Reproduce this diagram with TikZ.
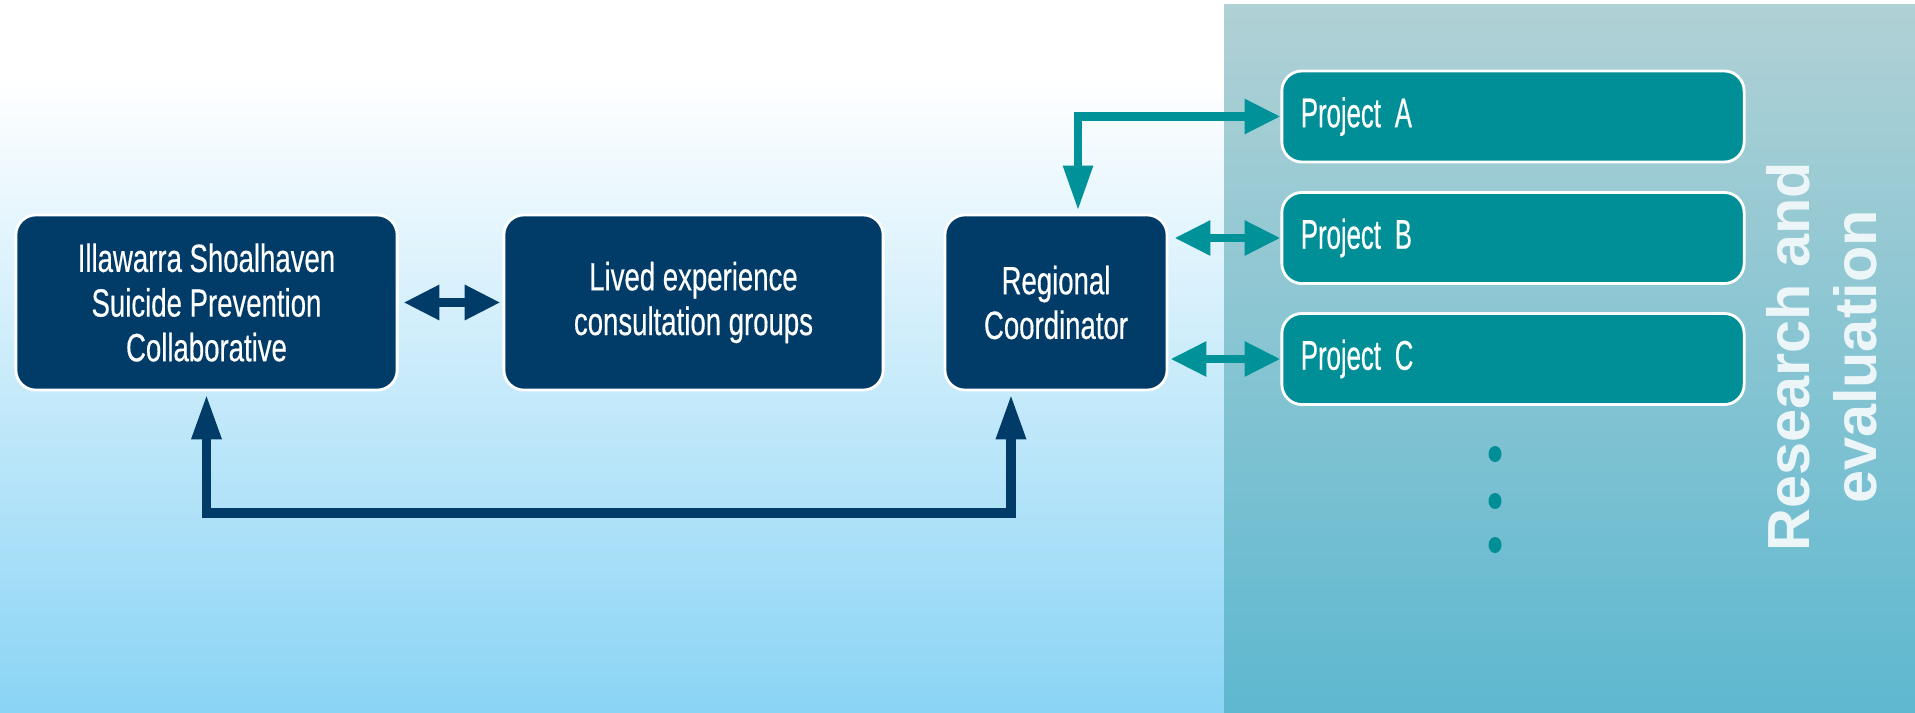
\documentclass[tikz,border=0pt]{standalone}
\usepackage{fontspec}
\usetikzlibrary{arrows.meta}
\setmainfont{Liberation Sans}
\newfontfamily\condfont[FakeStretch=0.7, FakeBold=0.4]{Liberation Sans}
\newfontfamily\projfont[FakeStretch=0.62, FakeBold=0.4]{Liberation Sans}
\newfontfamily\headfont{Liberation Sans}
% tighter word space for the project labels
\newcommand\projsetup{\projfont\fontsize{11.8}{13}\selectfont
  \fontdimen2\font=1pt\relax\spaceskip=1pt plus 0.3pt\relax}

\definecolor{navy}{RGB}{1,59,104}
\definecolor{tealbox}{RGB}{0,143,150}
\definecolor{tealarr}{RGB}{0,146,153}
\definecolor{skytop}{RGB}{255,255,255}
\definecolor{skymid}{RGB}{188,228,248}
\definecolor{skybot}{RGB}{138,212,245}
\definecolor{paneltop}{RGB}{176,209,213}
\definecolor{panelbot}{RGB}{94,184,208}
\definecolor{headtext}{RGB}{236,246,248}

\tikzset{
  darkbox/.style={draw=white, line width=0.8pt, fill=navy, rounded corners=0.2cm,
    minimum height=1.75cm, text=white, align=center,
    font=\condfont\fontsize{11.2}{12.7}\selectfont},
  projbox/.style={draw=white, line width=0.8pt, fill=tealbox, rounded corners=0.2cm,
    minimum width=4.62cm, minimum height=0.91cm, text width=4.24cm, inner xsep=0.19cm,
    align=left, text=white, font=\projsetup},
  navyarrow/.style={draw=navy, line width=2.6pt},
  tealarrow/.style={draw=tealarr, line width=2.4pt},
  HTip/.tip={Triangle[length=10.2pt, width=9.4pt]},
  VTip/.tip={Triangle[length=12.8pt, width=8pt]},
}

\begin{document}
\begin{tikzpicture}[x=0.01cm, y=-0.01cm]
  \useasboundingbox (0,0) rectangle (1915,712);

  % backgrounds
  \fill[white] (0,0) rectangle (1915,712);
  \shade[top color=skytop, middle color=skymid, bottom color=skybot] (0,80) rectangle (1224,712);
  \shade[top color=paneltop, bottom color=panelbot] (1224,4) rectangle (1915,712);

  % main boxes
  \node[darkbox, minimum width=3.81cm] (b1) at (206.5,302.5)
    {Illawarra Shoalhaven\\Suicide Prevention\\Collaborative};
  \node[darkbox, minimum width=3.79cm] (b2) at (693.5,302.5)
    {Lived experience\\consultation groups};
  \node[darkbox, minimum width=2.22cm] (b3) at (1056,302.5)
    {Regional\\Coordinator};

  % projects
  \node[projbox] (pA) at (1513,116.5) {Project A};
  \node[projbox] (pB) at (1513,238) {Project B};
  \node[projbox] (pC) at (1513,359) {Project C};

  % continuation dots
  \foreach \yy in {454,501,545}
    \fill[tealbox] (1495,\yy) ellipse [x radius=0.065cm, y radius=0.08cm];

  % side heading
  \node[rotate=90, align=center, text=headtext, inner sep=0pt,
        font=\headfont\bfseries\fontsize{16.9}{19}\selectfont] (re) at (1822,357)
    {Research and\\evaluation};

  % navy connectors
  \draw[navyarrow, HTip-HTip, shorten <=0.05cm, shorten >=0.02cm] (b1.east) -- (b2.west);
  \coordinate (busy) at (0,513);
  \coordinate (b3foot) at ([xshift=-0.45cm]b3.south);
  \draw[navyarrow, VTip-VTip, shorten <=0.03cm, shorten >=0.03cm]
    (b1.south) |- (busy -| b3foot) -- (b3foot);

  % teal connectors
  \coordinate (b3top) at ([xshift=0.22cm]b3.north);
  \draw[tealarrow, HTip-VTip, shorten >=0.03cm] (pA.west) -| (b3top);
  \draw[tealarrow, HTip-HTip, shorten <=0.06cm] (b3.east |- pB.west) -- (pB.west);
  \draw[tealarrow, HTip-HTip, shorten <=0.02cm] (b3.east |- pC.west) -- (pC.west);
\end{tikzpicture}
\end{document}
